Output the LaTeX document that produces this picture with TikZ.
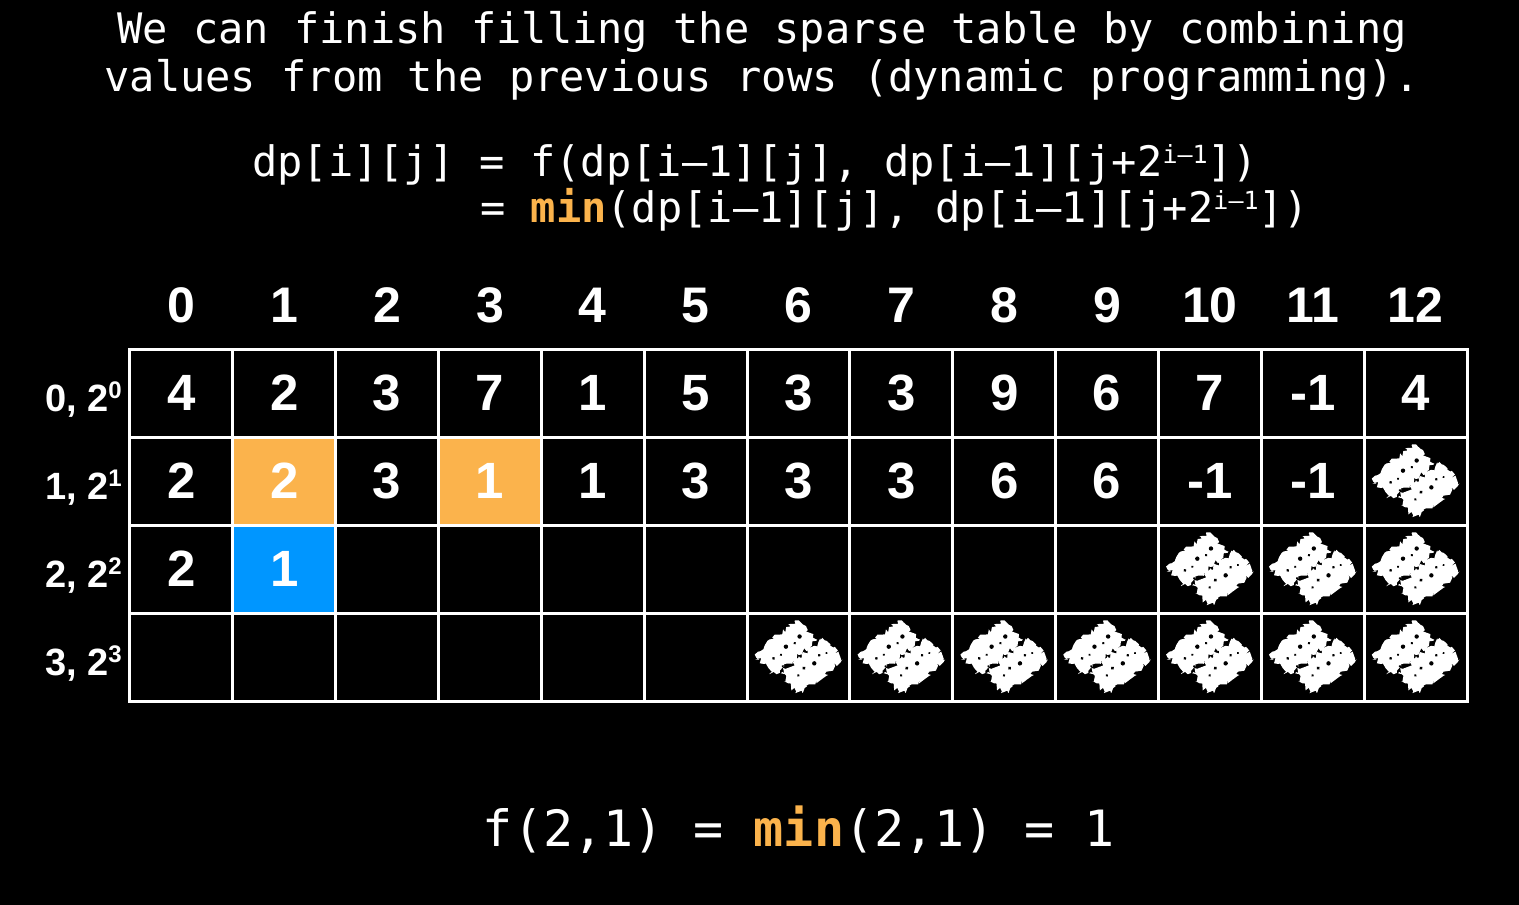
\documentclass[tikz,border=0pt]{standalone}
\usepackage{fontspec}
\setmainfont{Liberation Sans}
\newfontfamily\monof{DejaVu Sans Mono}
\usetikzlibrary{decorations.pathmorphing}
\definecolor{orng}{RGB}{251,179,76}
\definecolor{blu}{RGB}{0,150,255}
\newcommand{\msup}[1]{{\fontsize{25}{25}\selectfont\raisebox{13pt}{#1}}}
\newcommand{\rsup}[1]{{\fontsize{24}{24}\selectfont\raisebox{13pt}{#1}}}
\tikzset{
  titletext/.style={text=white, inner sep=0pt, font=\monof\fontsize{42}{50}\selectfont},
  formtext/.style={text=white, inner sep=0pt, font=\monof\fontsize{42}{50}\selectfont},
  bigtext/.style={text=white, inner sep=0pt, font=\monof\fontsize{50}{60}\selectfont},
  hdr/.style={text=white, inner sep=0pt, font=\bfseries\fontsize{50}{60}\selectfont},
  rowlab/.style={text=white, inner sep=0pt, font=\bfseries\fontsize{38}{40}\selectfont},
  cellbox/.style={draw=white, line width=3pt, minimum width=102.85pt, minimum height=88pt,
    inner sep=0pt, outer sep=0pt, text=white, font=\bfseries\fontsize{51}{60}\selectfont},
  scrib/.pic={
    \pgfmathsetseed{11}
    \begin{scope}[rotate=40]
      \fill[white, decorate, decoration={random steps, segment length=2.5pt, amplitude=3pt}]
        (-32,-30) -- (20,-30) -- (24,-25) -- (24,-1) -- (-28,-1) -- (-32,-6) -- cycle;
      \fill[white, decorate, decoration={random steps, segment length=2.5pt, amplitude=3pt}]
        (-24,1) -- (28,1) -- (32,6) -- (32,30) -- (-20,30) -- (-24,25) -- cycle;
      \fill[black] (-20,-15) circle (1.6) (-12,-13) circle (1.3) (-3,-16) circle (2.2)
        (6,-13) circle (1.4) (14,-15) circle (2.2)
        (-12,14) circle (1.4) (-3,12) circle (1.8) (8,15) circle (2.2) (17,12) circle (1.5)
        (24,15) circle (1.2) (-18,-3) circle (1.3) (2,1) circle (1.4);
    \end{scope}
  }
}
\begin{document}
\begin{tikzpicture}[x=1pt,y=-1pt]
\fill[black] (0,0) rectangle (1519,905);
\useasboundingbox (0,0) rectangle (1519,905);

% title
\node[titletext, anchor=base] (t1) at (762,43) {We can finish filling the sparse table by combining};
\node[titletext, anchor=base] (t2) at (762,91) {values from the previous rows (dynamic programming).};

% formula
\node[formtext, anchor=base west] (f1) at (252,176)
  {dp[i][j] = f(dp[i–1][j], dp[i–1][j+2\msup{i–1}])};
\node[formtext, anchor=base west] (f2) at (480,222)
  {= \textcolor{orng}{\bfseries min}(dp[i–1][j], dp[i–1][j+2\msup{i–1}])};

% column headers
\foreach \c in {0,...,12} {
  \node[hdr, anchor=base] (h\c) at ({130+(\c+0.5)*102.846},322) {\c};
}

% row labels
\foreach \r/\s in {0/0,1/1,2/2,3/3} {
  \node[rowlab, anchor=base east] (r\r) at (122,{411+\r*88}) {\r, 2\rsup{\s}};
}

% row 0
\foreach \v [count=\k from 0] in {4,2,3,7,1,5,3,3,9,6,7,-1,4} {
  \node[cellbox] (c0-\k) at ({130+(\k+0.5)*102.846},393) {\v};
}
% row 1
\foreach \v [count=\k from 0] in {2,2,3,1,1,3,3,3,6,6,-1,-1,{}} {
  \node[cellbox] (c1-\k) at ({130+(\k+0.5)*102.846},481) {\v};
}
% row 2
\foreach \v [count=\k from 0] in {2,1,{},{},{},{},{},{},{},{},{},{},{}} {
  \node[cellbox] (c2-\k) at ({130+(\k+0.5)*102.846},569) {\v};
}
% row 3
\foreach \k in {0,...,12} {
  \node[cellbox] (c3-\k) at ({130+(\k+0.5)*102.846},657) {};
}
% highlighted cells
\node[cellbox, fill=orng] (o1) at (c1-1) {2};
\node[cellbox, fill=orng] (o2) at (c1-3) {1};
\node[cellbox, fill=blu] (b1) at (c2-1) {1};

% scribbles (out-of-range cells)
\pic at (c1-12) {scrib};
\foreach \k in {10,11,12} { \pic at (c2-\k) {scrib}; }
\foreach \k in {6,...,12} { \pic at (c3-\k) {scrib}; }

% bottom
\node[bigtext, anchor=base] (res) at (799,846)
  {f(2,1) = \textcolor{orng}{\bfseries min}(2,1) = 1};
\end{tikzpicture}
\end{document}
